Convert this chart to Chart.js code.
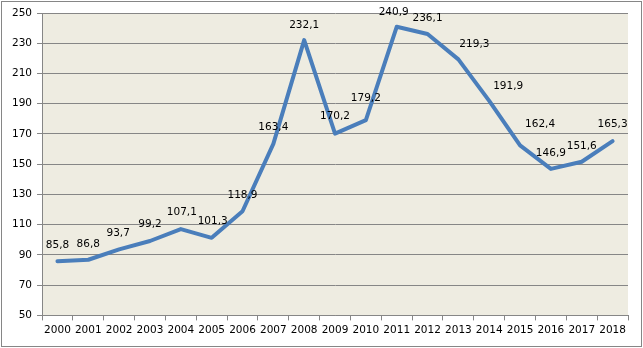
<!DOCTYPE html>
<html>
<head>
<meta charset="utf-8">
<script src="https://cdn.jsdelivr.net/npm/chart.js@4/dist/chart.umd.min.js"></script>
<style>
    html, body { margin: 0; padding: 0; background: #fff; }
    #wrap { width: 643px; height: 348px; }
</style>
</head>
<body>
<div id="wrap"><canvas id="stats" width="643" height="348"></canvas></div>
<script>
var years = ["2000", "2001", "2002", "2003", "2004", "2005", "2006", "2007", "2008", "2009",
    "2010", "2011", "2012", "2013", "2014", "2015", "2016", "2017", "2018"];
var values = [85.8, 86.8, 93.7, 99.2, 107.1, 101.3, 118.9, 163.4, 232.1, 170.2,
    179.2, 240.9, 236.1, 219.3, 191.9, 162.4, 146.9, 151.6, 165.3];
var yTicks = [50, 70, 90, 110, 130, 150, 170, 190, 210, 230, 250];

// label shifts from the point, in px (dx, dy)
var labelOffsets = [
    [0, -16], [0, -15], [-1, -16], [0, -17], [1, -17], [1, -17], [0, -16],
    [0, -17], [0, -15], [0, -17], [0, -22], [-3, -14], [0, -16], [16, -15],
    [19, -15], [20, -21], [0, -16], [0, -16], [0, -17]
];

var fontFamily = "'DejaVu Sans', Verdana, sans-serif";

var frame = {
    id: "frame",
    beforeDraw: function(chart) {
        var ctx = chart.ctx, a = chart.chartArea;
        ctx.save();
        ctx.fillStyle = "#ffffff";
        ctx.fillRect(0, 0, chart.width, chart.height);
        ctx.fillStyle = "#EEECE1";
        ctx.fillRect(a.left, a.top, a.right - a.left, a.bottom - a.top);
        ctx.restore();
    },
    afterDraw: function(chart) {
        var ctx = chart.ctx;
        ctx.save();
        ctx.strokeStyle = "#868686";
        ctx.lineWidth = 1;
        ctx.strokeRect(1.5, 1.5, chart.width - 3, chart.height - 3);
        ctx.restore();
    }
};

var valueLabels = {
    id: "valueLabels",
    afterDatasetsDraw: function(chart) {
        var ctx = chart.ctx;
        var meta = chart.getDatasetMeta(0);
        ctx.save();
        ctx.font = "10.5px " + fontFamily;
        ctx.fillStyle = "#000";
        ctx.textAlign = "center";
        ctx.textBaseline = "middle";
        meta.data.forEach(function(pt, i) {
            var txt = values[i].toFixed(1).replace(".", ",");
            ctx.fillText(txt, pt.x + labelOffsets[i][0], pt.y + labelOffsets[i][1]);
        });
        ctx.restore();
    }
};

new Chart(document.getElementById("stats").getContext("2d"), {
    type: "line",
    data: {
        labels: years,
        datasets: [{
            data: values,
            borderColor: "#4A7EBB",
            borderWidth: 4,
            borderJoinStyle: "round",
            borderCapStyle: "round",
            pointRadius: 0,
            tension: 0,
            fill: false
        }]
    },
    options: {
        responsive: false,
        animation: false,
        layout: { padding: { top: 13, right: 15, bottom: 7, left: 7 } },
        plugins: {
            legend: { display: false },
            tooltip: { enabled: false }
        },
        scales: {
            x: {
                offset: true,
                grid: {
                    offset: true,
                    drawOnChartArea: false,
                    drawTicks: true,
                    tickLength: 5,
                    color: "#868686"
                },
                border: { color: "#868686", width: 1 },
                ticks: {
                    color: "#000",
                    font: { family: fontFamily, size: 10.5 },
                    maxRotation: 0,
                    autoSkip: false,
                    padding: 4
                }
            },
            y: {
                min: yTicks[0],
                max: yTicks[yTicks.length - 1],
                afterBuildTicks: function(axis) {
                    axis.ticks = yTicks.map(function(v) { return { value: v }; });
                },
                grid: {
                    color: "#868686",
                    tickLength: 5
                },
                border: { color: "#868686", width: 1 },
                ticks: {
                    color: "#000",
                    font: { family: fontFamily, size: 10.5 },
                    padding: 5
                }
            }
        }
    },
    plugins: [frame, valueLabels]
});
</script>
</body>
</html>
